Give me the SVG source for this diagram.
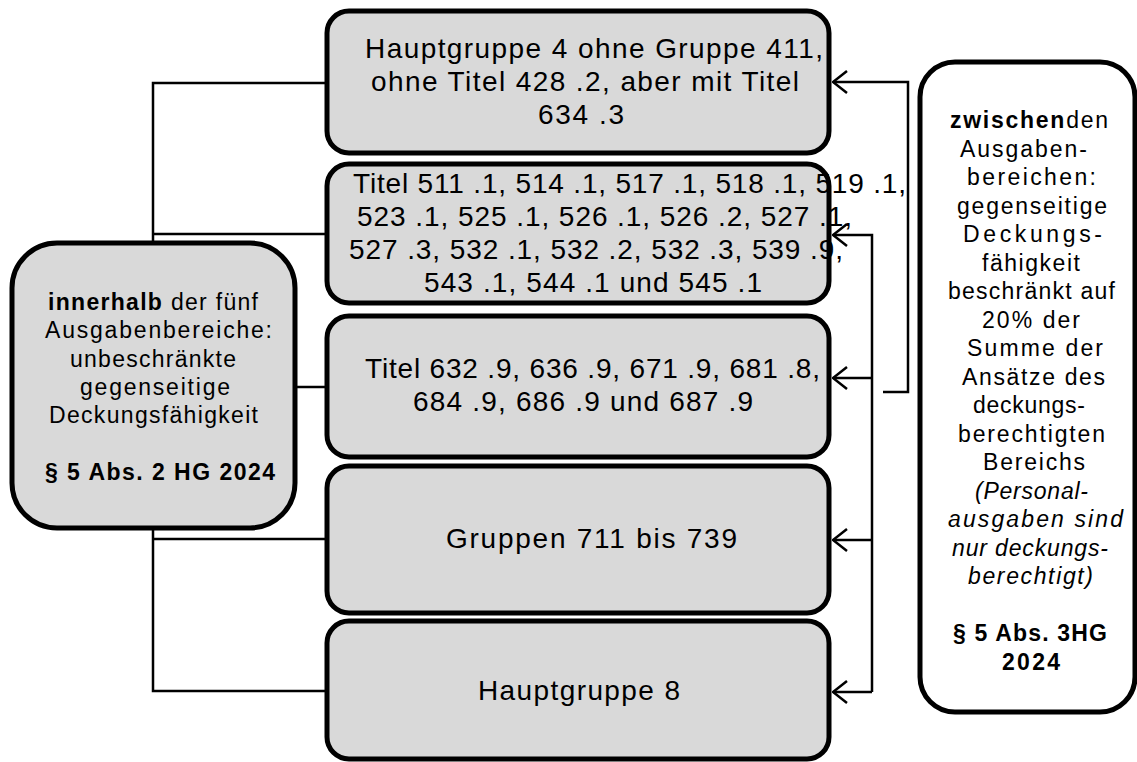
<svg xmlns="http://www.w3.org/2000/svg" width="1137" height="762" viewBox="0 0 1137 762">
<defs>
<style>
.box{fill:#d9d9d9;stroke:#000;stroke-width:5}
.wbox{fill:#fff;stroke:#000;stroke-width:5}
.ln{fill:none;stroke:#000;stroke-width:2.5}
.t{font-family:"Liberation Sans",Arial,sans-serif;fill:#000}
.m{font-size:28px}
.s{font-size:23px}
.b{font-weight:bold}
.i{font-style:italic}
</style>
<marker id="arr" viewBox="0 0 16 24" refX="15" refY="12" markerWidth="16" markerHeight="24" markerUnits="userSpaceOnUse" orient="auto">
<path d="M1,1 L15,12 L1,23" fill="none" stroke="#000" stroke-width="2.5"/>
</marker>
</defs>
<g id="connectors">
<path class="ln" d="M327,83 H153 V691 H327"/>
<path class="ln" d="M153,234 H327"/>
<path class="ln" d="M295,387 H327"/>
<path class="ln" d="M153,539 H327"/>
<path class="ln" d="M883,392 H908 V82 H833" marker-end="url(#arr)"/>
<path class="ln" d="M872,692 V235 H833" marker-end="url(#arr)"/>
<path class="ln" d="M872,378 H833" marker-end="url(#arr)"/>
<path class="ln" d="M872,540 H833" marker-end="url(#arr)"/>
<path class="ln" d="M872,692 H833" marker-end="url(#arr)"/>
</g>
<g id="box1">
<rect class="box" x="327" y="11" width="502" height="142" rx="22"/>
<text class="t m" x="365" y="58" textLength="458" lengthAdjust="spacing">Hauptgruppe 4 ohne Gruppe 411,</text>
<text class="t m" x="371" y="91" textLength="428" lengthAdjust="spacing">ohne Titel 428 .2, aber mit Titel</text>
<text class="t m" x="538" y="124" textLength="86" lengthAdjust="spacing">634 .3</text>
</g>
<g id="box2">
<rect class="box" x="327" y="164" width="502" height="139" rx="22"/>
<text class="t m" x="353" y="193" textLength="553" lengthAdjust="spacing">Titel 511 .1, 514 .1, 517 .1, 518 .1, 519 .1,</text>
<text class="t m" x="357" y="226" textLength="495" lengthAdjust="spacing">523 .1, 525 .1, 526 .1, 526 .2, 527 .1,</text>
<text class="t m" x="349" y="259" textLength="494" lengthAdjust="spacing">527 .3, 532 .1, 532 .2, 532 .3, 539 .9,</text>
<text class="t m" x="424" y="292" textLength="338" lengthAdjust="spacing">543 .1, 544 .1 und 545 .1</text>
</g>
<g id="box3">
<rect class="box" x="327" y="316" width="502" height="141" rx="22"/>
<text class="t m" x="365" y="378" textLength="455" lengthAdjust="spacing">Titel 632 .9, 636 .9, 671 .9, 681 .8,</text>
<text class="t m" x="413" y="411" textLength="340" lengthAdjust="spacing">684 .9, 686 .9 und 687 .9</text>
</g>
<g id="box4">
<rect class="box" x="327" y="466" width="502" height="147" rx="22"/>
<text class="t m" x="446" y="548" textLength="291" lengthAdjust="spacing">Gruppen 711 bis 739</text>
</g>
<g id="box5">
<rect class="box" x="327" y="621" width="502" height="138" rx="22"/>
<text class="t m" x="478" y="700" textLength="202" lengthAdjust="spacing">Hauptgruppe 8</text>
</g>
<g id="left">
<rect class="box" x="12" y="243" width="283" height="285" rx="45"/>
<text class="t s" x="48" y="310" textLength="210" lengthAdjust="spacing"><tspan class="b">innerhalb</tspan> der fünf</text>
<text class="t s" x="45" y="338" textLength="227" lengthAdjust="spacing">Ausgabenbereiche:</text>
<text class="t s" x="70" y="367" textLength="166" lengthAdjust="spacing">unbeschränkte</text>
<text class="t s" x="80" y="395" textLength="150" lengthAdjust="spacing">gegenseitige</text>
<text class="t s" x="49" y="423" textLength="209" lengthAdjust="spacing">Deckungsfähigkeit</text>
<text class="t s b" x="45" y="480" textLength="230" lengthAdjust="spacing">§ 5 Abs. 2 HG 2024</text>
</g>
<g id="right">
<rect class="wbox" x="920" y="62" width="215" height="650" rx="35"/>
<text class="t s" x="950" y="128" textLength="158" lengthAdjust="spacing"><tspan class="b">zwischen</tspan>den</text>
<text class="t s" x="960" y="156.5" textLength="127" lengthAdjust="spacing">Ausgaben-</text>
<text class="t s" x="967" y="185" textLength="129" lengthAdjust="spacing">bereichen:</text>
<text class="t s" x="957" y="213.5" textLength="150" lengthAdjust="spacing">gegenseitige</text>
<text class="t s" x="963" y="242" textLength="139" lengthAdjust="spacing">Deckungs-</text>
<text class="t s" x="982" y="270.5" textLength="98" lengthAdjust="spacing">fähigkeit</text>
<text class="t s" x="948" y="299" textLength="167" lengthAdjust="spacing">beschränkt auf</text>
<text class="t s" x="982" y="327.5" textLength="98" lengthAdjust="spacing">20% der</text>
<text class="t s" x="967" y="356" textLength="136" lengthAdjust="spacing">Summe der</text>
<text class="t s" x="962" y="384.5" textLength="143" lengthAdjust="spacing">Ansätze des</text>
<text class="t s" x="973" y="413" textLength="112" lengthAdjust="spacing">deckungs-</text>
<text class="t s" x="958" y="441.5" textLength="147" lengthAdjust="spacing">berechtigten</text>
<text class="t s" x="983" y="470" textLength="102" lengthAdjust="spacing">Bereichs</text>
<text class="t s i" x="975" y="498.5" textLength="113" lengthAdjust="spacing">(Personal-</text>
<text class="t s i" x="948" y="527" textLength="175" lengthAdjust="spacing">ausgaben sind</text>
<text class="t s i" x="952" y="555.5" textLength="156" lengthAdjust="spacing">nur deckungs-</text>
<text class="t s i" x="968" y="584" textLength="125" lengthAdjust="spacing">berechtigt)</text>
<text class="t s b" x="953" y="641" textLength="154" lengthAdjust="spacing">§ 5 Abs. 3HG</text>
<text class="t s b" x="1002" y="669.5" textLength="58" lengthAdjust="spacing">2024</text>
</g>
</svg>
